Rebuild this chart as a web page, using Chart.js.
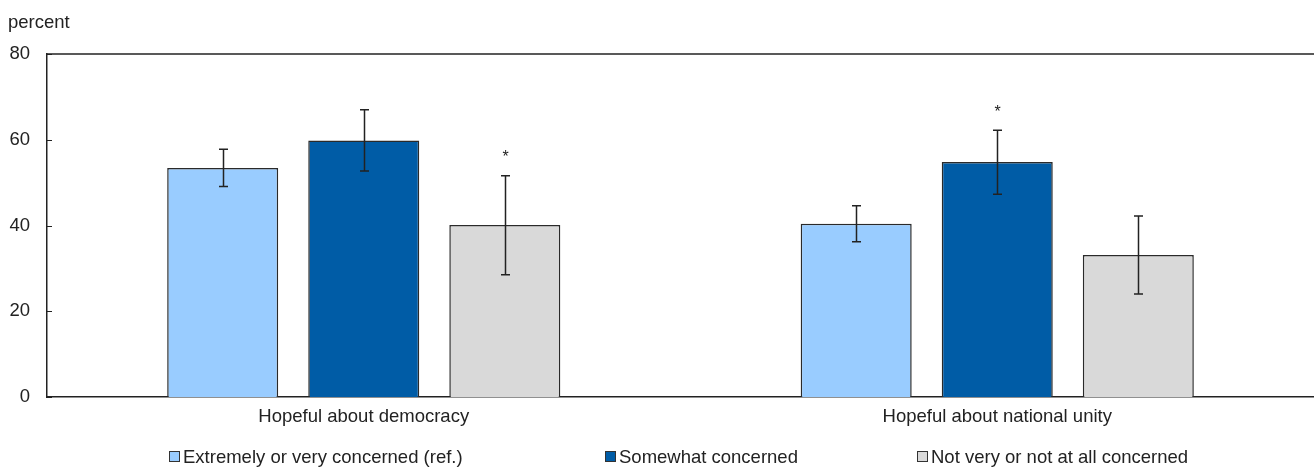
<!DOCTYPE html>
<html>
<head>
<meta charset="utf-8">
<script src="https://cdn.jsdelivr.net/npm/chart.js@4"></script>
<style>
    body { margin: 0; background: #fff; }
    #wrap { position: relative; width: 1314px; height: 467px; font-family: 'Liberation Sans', Arial, sans-serif; color: #222; }
    #unit { position: absolute; left: 8px; top: 11px; font-size: 18.5px; }
    .leg { position: absolute; top: 447px; font-size: 18.5px; line-height: 20px; white-space: nowrap; }
    .leg i { display: inline-block; width: 9px; height: 9px; border: 1px solid #333; margin-right: 3px; vertical-align: 1px; }
</style>
</head>
<body>
<div id="wrap">
    <canvas id="chartHope" width="1314" height="467"></canvas>
    <div id="unit">percent</div>
    <div class="leg" style="left:169px"><i style="background:#99CCFF"></i>Extremely or very concerned (ref.)</div>
    <div class="leg" style="left:605px"><i style="background:#005CA6"></i>Somewhat concerned</div>
    <div class="leg" style="left:917px"><i style="background:#D9D9D9"></i>Not very or not at all concerned</div>
</div>
<script>
// Datos
const categorias = ['Hopeful about democracy', 'Hopeful about national unity'];
const series = ['Extremely or very concerned (ref.)', 'Somewhat concerned', 'Not very or not at all concerned'];
const colores = ['#99CCFF', '#005CA6', '#D9D9D9'];

const valRef = [53.4, 40.4];
const valAlgo = [59.8, 54.8];
const valNada = [40.1, 33.1];

// intervalos de confianza (bajo / alto)
const bajoRef = [49.1, 36.2];
const altoRef = [57.8, 44.6];
const bajoAlgo = [52.7, 47.3];
const altoAlgo = [67.0, 62.2];
const bajoNada = [28.5, 24.0];
const altoNada = [51.6, 42.2];

// diferencia significativa vs ref.
const estrellaRef = [false, false];
const estrellaAlgo = [false, true];
const estrellaNada = [true, false];

const yTicks = [0, 20, 40, 60, 80];

const valores = [valRef, valAlgo, valNada];
const bajos = [bajoRef, bajoAlgo, bajoNada];
const altos = [altoRef, altoAlgo, altoNada];
const estrellas = [estrellaRef, estrellaAlgo, estrellaNada];

Chart.defaults.font.family = "'Liberation Sans', Arial, sans-serif";
Chart.defaults.font.size = 18.5;
Chart.defaults.color = '#222';

// barras de error, asteriscos, linea superior y marcas del eje
const extras = {
    id: 'extras',
    afterDatasetsDraw(chart) {
        const ctx = chart.ctx;
        const y = chart.scales.y;
        const area = chart.chartArea;
        ctx.save();

        // linea superior
        ctx.strokeStyle = '#222';
        ctx.lineWidth = 1.5;
        ctx.beginPath();
        ctx.moveTo(area.left, area.top);
        ctx.lineTo(area.right, area.top);
        ctx.stroke();

        // marcas hacia adentro
        ctx.lineWidth = 1;
        yTicks.forEach(t => {
            const py = Math.round(y.getPixelForValue(t)) + 0.5;
            ctx.beginPath();
            ctx.moveTo(area.left, py);
            ctx.lineTo(area.left + 5, py);
            ctx.stroke();
        });

        chart.data.datasets.forEach((ds, i) => {
            const meta = chart.getDatasetMeta(i);
            meta.data.forEach((bar, j) => {
                const x = Math.round(bar.x) + 0.5;
                const yHi = y.getPixelForValue(altos[i][j]);
                const yLo = y.getPixelForValue(bajos[i][j]);
                ctx.strokeStyle = '#222';
                ctx.lineWidth = 1.5;
                ctx.beginPath();
                ctx.moveTo(x, yHi);
                ctx.lineTo(x, yLo);
                ctx.moveTo(x - 4.5, yHi);
                ctx.lineTo(x + 4.5, yHi);
                ctx.moveTo(x - 4.5, yLo);
                ctx.lineTo(x + 4.5, yLo);
                ctx.stroke();

                if (estrellas[i][j]) {
                    ctx.fillStyle = '#222';
                    ctx.font = "16px 'Liberation Sans', Arial, sans-serif";
                    ctx.textAlign = 'center';
                    ctx.textBaseline = 'middle';
                    ctx.fillText('*', x, yHi - 18);
                }
            });
        });
        ctx.restore();
    }
};

const ctx = document.getElementById('chartHope').getContext('2d');
new Chart(ctx, {
    type: 'bar',
    data: {
        labels: categorias,
        datasets: series.map((s, i) => ({
            label: s,
            data: valores[i],
            backgroundColor: colores[i],
            borderColor: '#2a2a2a',
            borderWidth: 1.5,
            categoryPercentage: 0.668,
            barPercentage: 0.787
        }))
    },
    options: {
        responsive: false,
        animation: false,
        layout: {
            padding: { top: 54, right: 0, bottom: 30, left: 0 }
        },
        plugins: {
            legend: { display: false },
            tooltip: { enabled: false }
        },
        scales: {
            x: {
                grid: { display: false, drawTicks: false },
                border: { display: true, color: '#222', width: 1.5 },
                ticks: { padding: 9, color: '#222' },
                afterFit: (scale) => { scale.height = 40; }
            },
            y: {
                min: 0,
                max: 80,
                grid: { display: false, drawTicks: false },
                border: { display: true, color: '#222', width: 1.5 },
                ticks: { stepSize: 20, padding: 17, color: '#222' },
                afterFit: (scale) => { scale.width = 47; }
            }
        }
    },
    plugins: [extras]
});
</script>
</body>
</html>
